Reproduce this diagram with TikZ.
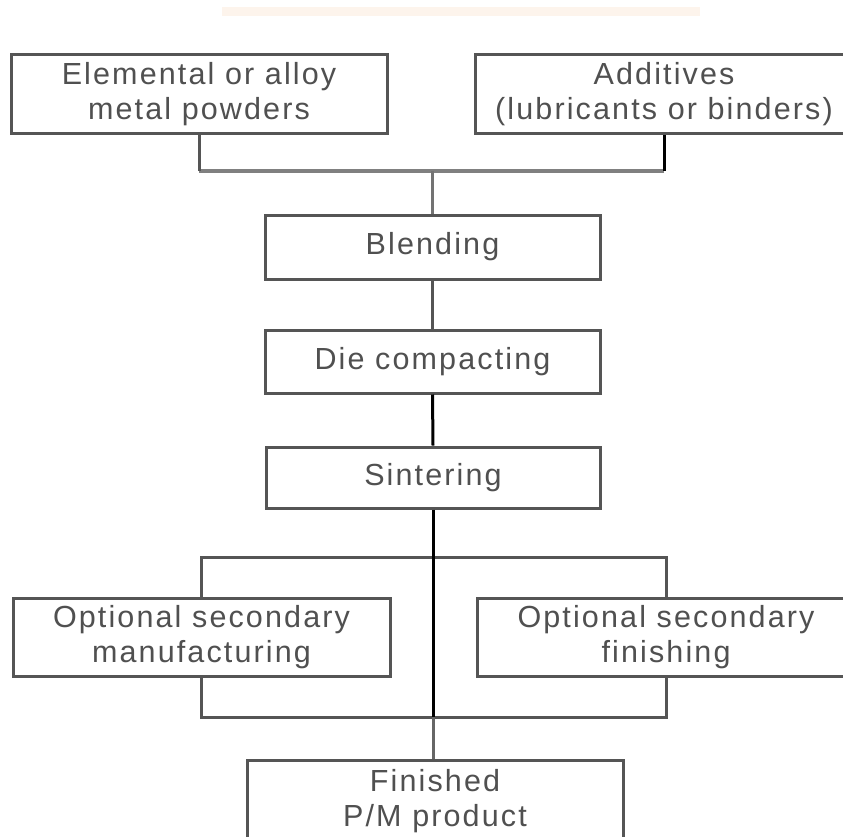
\documentclass[tikz,border=0pt]{standalone}
\usepackage{fontspec}
\setmainfont{Liberation Sans}[LetterSpace=7]
\definecolor{beige}{HTML}{FDF4EC}
\definecolor{txt}{HTML}{505050}
\definecolor{edge}{HTML}{555555}
\begin{document}
\begin{tikzpicture}[x=1pt,y=-1pt,
  stepbox/.style={draw=edge, line width=3pt, fill=white, inner sep=0pt,
    align=center, text=txt, font=\fontsize{30.5}{35}\selectfont},
  conn/.style={draw=edge, line width=3pt},
  dark/.style={draw=black, line width=3pt},
  thick grey/.style={draw=black!50, line width=4.5pt}]
\clip (0,0) rectangle (843,836);
\fill[beige] (222,7) rectangle (700,16);

\node[stepbox, minimum width=376pt, minimum height=79pt] (b1) at (199,94) {Elemental or alloy\\metal powders};
\node[stepbox, minimum width=378pt, minimum height=79pt] (b2) at (664,94) {Additives\\(lubricants or binders)};
\node[stepbox, minimum width=335pt, minimum height=64pt] (blend) at (432.5,247) {Blending};
\node[stepbox, minimum width=335pt, minimum height=63pt] (die) at (432.5,361.5) {Die compacting};
\node[stepbox, minimum width=334pt, minimum height=61pt] (sint) at (433,477.5) {Sintering};
\node[stepbox, minimum width=377pt, minimum height=78pt] (om) at (201.5,637) {Optional secondary\\manufacturing};
\node[stepbox, minimum width=378pt, minimum height=78pt] (of) at (666,637) {Optional secondary\\finishing};
\node[stepbox, minimum width=376pt, minimum height=82pt] (fin) at (435,801) {Finished\\P/M product};

\coordinate (j1) at (432.5,171);
\coordinate (u) at (433,557);
\coordinate (l) at (433,717);

\draw[thick grey] (b1.south |- j1) -- (b2.south |- j1);
\draw[conn] (b1.south) -- (b1.south |- j1);
\draw[dark] (b2.south) -- (b2.south |- j1);
\draw[conn, draw=black!55] (j1) -- (blend.north);
\draw[conn] (blend.south) -- (die.north);
\draw[dark] (die.south) -- (sint.north);
\draw[conn] (om.north) |- (u) -| (of.north);
\draw[conn] (om.south) |- (l) -| (of.south);
\draw[dark] (sint.south) -- (l);
\draw[conn, draw=black!60] (l) -- (l |- fin.north);
\end{tikzpicture}
\end{document}
